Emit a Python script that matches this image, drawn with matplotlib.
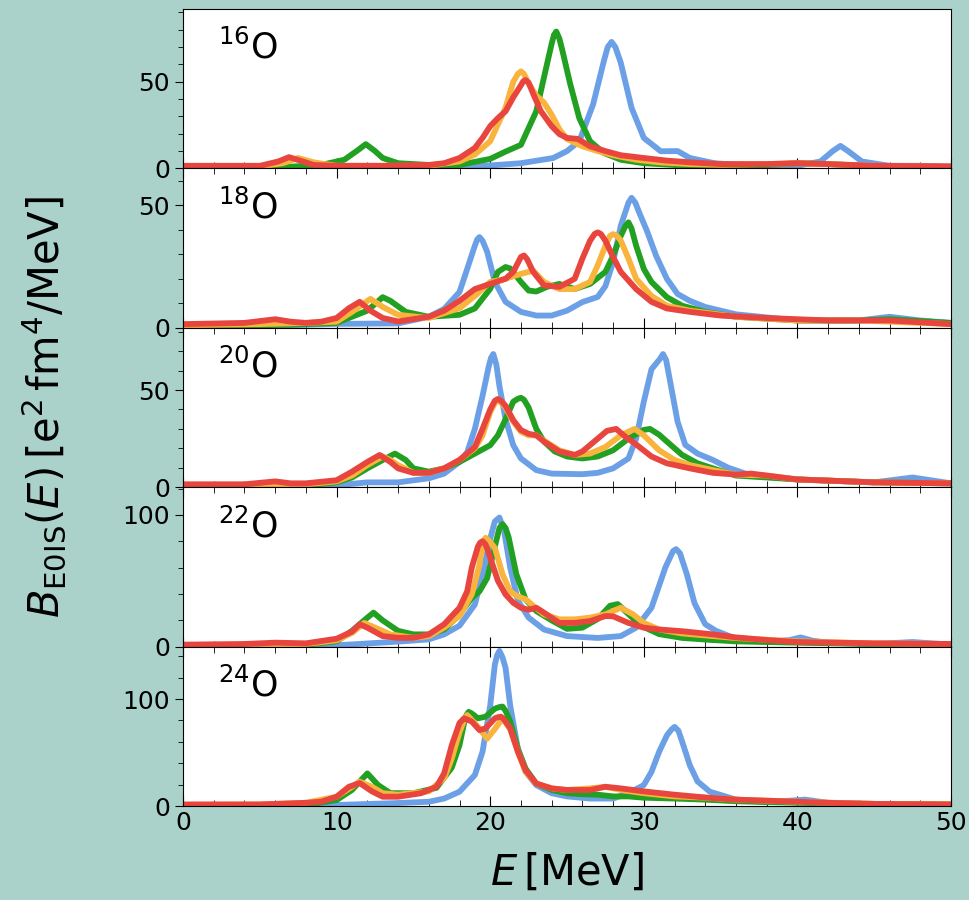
import matplotlib
matplotlib.use("Agg")
import matplotlib.pyplot as plt
from matplotlib.ticker import AutoMinorLocator, MultipleLocator

# ---- 16O ----
o16_blue_e = [0, 5, 10, 15, 18, 20, 22, 24.1, 25, 25.8, 26.7, 27.4, 27.65, 27.9, 28.15, 28.5, 29.2, 30.0, 31.1, 32.2, 33.0, 34.6, 37, 40, 41.5, 42.3, 42.8, 43.3, 44.2, 46, 48, 50]
o16_blue_b = [0.5, 0.5, 0.5, 0.8, 1.2, 1.7, 3, 6, 10, 15.7, 37, 62, 70, 73, 70, 61, 35, 17.6, 9.9, 10, 6, 3, 1.5, 1.5, 4, 10, 13, 10, 4, 1.5, 1.5, 1]
o16_green_e = [0, 6, 9, 10.5, 11.3, 11.9, 12.5, 13, 14, 16, 18, 20, 21, 22, 23, 23.5, 24, 24.15, 24.3, 24.5, 24.7, 25.2, 25.8, 26.5, 27.4, 28.5, 30, 32, 35, 38, 40, 42, 45, 50]
o16_green_b = [0.5, 0.5, 2, 5, 10, 14, 10, 6, 3, 2, 2, 5.5, 9.7, 13.6, 33, 52.5, 72, 77, 79, 75, 68, 49, 29, 15.7, 8.9, 5, 3, 2, 1.5, 2, 3, 2.5, 1.2, 0.8]
o16_orange_e = [0, 5, 6.5, 7.5, 8.5, 10, 13, 16, 18, 19, 20, 20.5, 21, 21.5, 21.8, 22, 22.2, 22.5, 23, 23.5, 24, 24.5, 25, 26, 27, 28, 29.5, 31, 33, 35, 38, 40, 42, 45, 50]
o16_orange_b = [1, 1, 3, 6, 3.5, 1.5, 1.5, 1.5, 4, 8, 15.7, 25.4, 35, 50, 54.5, 56, 54.5, 49, 42, 38, 31, 22.6, 17, 12.8, 10, 7.6, 5, 3.5, 2.5, 2, 2.5, 3, 2.5, 1.5, 1]
o16_red_e = [0, 5, 6.2, 6.9, 7.8, 8.5, 10, 13, 16, 17, 18, 19, 19.5, 20, 20.5, 21, 21.5, 22, 22.15, 22.3, 22.5, 22.8, 23.3, 24, 24.5, 25, 25.7, 26.5, 27.5, 28.5, 30, 31.5, 33, 35, 38, 40, 42, 45, 50]
o16_red_b = [1.5, 1.5, 4, 6.5, 4, 2, 1.5, 1.5, 2, 3, 6, 11.8, 17.6, 24.4, 29, 33, 41, 48, 50.3, 51, 49.5, 43, 33, 24.4, 19.8, 17.6, 17, 12.8, 10, 7.6, 6, 4.5, 3.5, 2.5, 2.5, 3, 2.5, 1.5, 1.2]

# ---- 18O ----
o18_blue_e = [0, 5, 10, 14, 16, 17, 18, 18.5, 19, 19.15, 19.3, 19.5, 19.8, 20.3, 21, 22, 23, 24, 25, 26, 27, 27.5, 28, 28.5, 29.0, 29.2, 29.45, 29.7, 30.2, 30.8, 31.5, 32.2, 33, 34, 36, 40, 44, 46, 48, 50]
o18_blue_b = [0.5, 0.8, 1.6, 1.8, 4.5, 7.7, 14.6, 24, 33.5, 36, 37, 35.5, 31, 18.7, 10.6, 6.5, 5, 5, 7, 10.5, 12.6, 17, 26.8, 41.6, 51, 53, 51, 47, 39.6, 29.4, 20, 13.8, 11, 8.5, 5.5, 3, 3, 4.5, 3, 2]
o18_green_e = [0, 5, 8, 10, 11, 12, 13, 13.5, 14.5, 16, 18, 19, 20, 20.5, 21, 21.3, 22, 22.5, 23, 23.7, 24.5, 25.5, 26.5, 27.5, 28, 28.5, 28.8, 29, 29.2, 29.5, 30, 30.5, 31.5, 32.5, 34, 36, 40, 44, 46, 50]
o18_green_b = [1, 1, 1.5, 2, 4.5, 7, 12.5, 11, 6.5, 4.5, 5.3, 7.9, 15.9, 22.8, 24.8, 24.2, 18.7, 15.2, 14.8, 16.7, 17.9, 15.8, 17.9, 22.8, 29.4, 37.5, 41.5, 43, 40.5, 33.5, 24, 18.7, 12.5, 9, 6.5, 4.5, 3, 3, 3.5, 2]
o18_orange_e = [0, 5, 8, 10, 11, 12.2, 13, 14, 16, 18, 19, 20, 21, 22, 22.8, 23.5, 24.5, 25.5, 26.5, 27, 27.5, 27.8, 28, 28.25, 28.5, 29, 29.5, 30.5, 31.5, 33, 34.5, 36, 40, 44, 50]
o18_orange_b = [1, 1.5, 2, 2.5, 6.5, 11.8, 8.5, 5.3, 4, 8, 13, 18.7, 20, 22, 23.3, 18.7, 15.8, 15.8, 18.7, 25.5, 33.5, 37.5, 38.2, 37.5, 35.6, 28.2, 20, 13, 9, 7, 5.8, 4.5, 3, 3, 1.5]
o18_red_e = [0, 4, 6, 7, 8, 9, 10, 10.8, 11.5, 12.2, 13, 14, 16, 17, 18, 19, 20, 21, 21.5, 22, 22.2, 22.4, 22.8, 23.5, 24.5, 25.5, 26, 26.5, 26.8, 27, 27.2, 27.5, 28, 28.5, 29.5, 30.5, 31.5, 33, 35, 38, 42, 46, 50]
o18_red_b = [1.5, 2, 3.5, 2.5, 2, 2.5, 4, 8, 10.6, 7, 4, 2.6, 4.5, 7, 11, 15.8, 17.9, 20, 22.8, 28.9, 29.5, 28, 22.8, 17.3, 16.7, 20, 28.2, 35.5, 38.3, 38.9, 38.3, 35.5, 28.9, 22.8, 15.8, 10.6, 7.9, 6.5, 5, 4, 3, 3, 1.5]

# ---- 20O ----
o20_blue_e = [0, 5, 10, 12, 14, 16, 17, 18, 18.5, 19, 19.5, 19.9, 20.05, 20.2, 20.4, 20.6, 21, 21.5, 22, 23, 24, 26, 27, 28, 29, 29.5, 30, 30.5, 31.05, 31.25, 31.45, 31.7, 32.2, 32.7, 33.5, 34.5, 35.5, 37, 40, 45, 47.5, 50]
o20_blue_b = [0.5, 0.5, 1, 2.5, 2.5, 4.6, 7, 13, 18, 30, 47, 62, 66.5, 68.5, 63, 52, 35, 21.6, 14.8, 8.8, 7, 6.7, 7.4, 9.7, 14.8, 25, 44, 60.7, 66, 68.5, 65.5, 55, 33.7, 21.8, 17.3, 14, 10, 6, 4, 2.5, 5, 2]
o20_green_e = [0, 5, 8, 10, 11, 12, 13, 13.8, 14.5, 15, 16, 17, 18, 19, 20, 20.5, 21, 21.5, 21.8, 22, 22.2, 22.5, 23, 23.5, 24.2, 25, 26, 27, 28, 29, 30, 30.4, 31, 31.5, 32.5, 33.5, 34.5, 36, 38, 40, 45, 50]
o20_green_b = [0.5, 0.8, 1, 2.5, 5, 9.7, 14, 17.3, 14, 9.7, 8, 9.7, 13, 17.3, 21.6, 26.7, 35, 44, 45.5, 46, 45, 41, 30, 23.5, 18.4, 15.8, 14.8, 15.8, 19, 25, 29.5, 30, 27, 23.5, 16.6, 12.3, 9.7, 6, 5, 4, 2.5, 2]
o20_orange_e = [0, 5, 8, 10, 11, 12, 13, 13.5, 14, 15, 16, 17, 18, 19, 19.5, 20, 20.35, 20.5, 20.7, 21, 21.5, 22, 22.5, 23, 23.5, 24.5, 25.5, 26.5, 27.5, 28.5, 29.4, 30, 31, 32, 33, 34.5, 36, 38, 40, 45, 50]
o20_orange_b = [1, 1, 1.5, 3, 6, 11.4, 15.8, 14, 11.4, 7.4, 7.4, 9.7, 14, 20, 26.7, 38.7, 44, 44.5, 43.5, 41, 33.7, 28.6, 26.7, 26.7, 24, 19, 16.6, 17.3, 20.7, 26.7, 30, 26.7, 19, 14, 11.4, 8.8, 6.5, 6, 4, 2.5, 2]
o20_red_e = [0, 4, 6, 7, 8, 10, 11, 12, 12.8, 13.5, 14, 15, 16, 17, 18, 19, 19.5, 20, 20.3, 20.5, 20.7, 21, 21.5, 22, 22.5, 23, 23.5, 24.5, 25.5, 26, 27, 27.6, 28.2, 28.8, 29.5, 30.5, 31.5, 33, 34.5, 36, 37, 38.5, 40, 45, 50]
o20_red_b = [1.5, 1.5, 3, 2, 2, 3.6, 8, 13, 16.6, 13, 9.7, 7.4, 7.4, 9.7, 14, 20.7, 30, 40, 44.5, 45.4, 44.5, 41.9, 34.5, 29.4, 27.5, 26.7, 23.5, 18.4, 16.6, 18.4, 25, 29, 30, 26, 22, 15.8, 12.3, 9.7, 7.4, 6.5, 7, 5.5, 4, 2.5, 2]

# ---- 22O ----
o22_blue_e = [0, 5, 10, 14, 16, 17, 18, 19, 19.5, 20, 20.3, 20.6, 20.9, 21.3, 21.8, 22.5, 23.5, 25, 27, 28.5, 29.5, 30.5, 31.4, 31.9, 32.1, 32.35, 32.8, 33.3, 34, 34.7, 36, 38, 39.5, 40.2, 41, 42, 45, 47.5, 50]
o22_blue_b = [0.5, 0.5, 1, 3.8, 5.5, 9.3, 15.9, 32, 55, 82, 95, 98, 88, 60, 35, 22, 13, 8, 6.6, 8, 14.4, 29.5, 60, 72.5, 74, 71, 55, 33, 17, 12, 6, 3.5, 5, 7, 4.5, 3, 2, 3.5, 1.5]
o22_green_e = [0, 5, 8, 10, 11, 12, 12.4, 13, 14, 15, 16, 17, 18, 18.8, 19.3, 19.8, 20.3, 20.6, 20.8, 21.0, 21.2, 21.7, 22.3, 23, 24, 25, 26, 27, 27.8, 28.3, 29, 29.8, 31, 32.5, 34.5, 36, 40, 45, 50]
o22_green_b = [0.5, 1, 1.5, 4, 12, 22, 25.8, 19.9, 12, 9.3, 9.3, 13, 24.5, 37, 42, 52, 76, 90, 93, 90, 83, 55, 35.9, 27, 19.9, 13.5, 14.4, 21, 31, 32.3, 24.7, 15.9, 9.5, 6.6, 5, 4, 3, 2, 1.5]
o22_orange_e = [0, 5, 8, 10, 11, 11.8, 12.5, 13.5, 15, 16, 17, 18, 18.8, 19.3, 19.5, 19.7, 19.95, 20.3, 20.8, 21.3, 21.8, 22.3, 22.8, 23.5, 24.5, 25.5, 26.5, 27.5, 28.5, 29.3, 30, 31, 32.5, 34.5, 36, 40, 45, 50]
o22_orange_b = [1, 1.5, 2, 4.8, 10.4, 18, 14.4, 9.3, 6.7, 8, 14.4, 23.2, 39.6, 62, 79, 82.6, 80, 75, 55, 42, 38, 36, 31, 24.5, 20.7, 20.7, 22, 24.5, 29.5, 24.5, 18, 13, 10, 8, 6.5, 4, 2.5, 2]
o22_red_e = [0, 4, 6, 8, 10, 11, 11.5, 12, 13, 14, 15, 16, 17, 18, 18.5, 18.8, 19.2, 19.35, 19.5, 19.7, 20, 20.5, 21, 21.5, 22, 22.5, 23, 23.5, 24.5, 25.5, 26.5, 27.5, 28, 29, 30, 31, 32.5, 34.5, 36, 38, 40, 45, 50]
o22_red_b = [1.5, 2, 3, 2.5, 6, 11.4, 17, 14.4, 8, 6.7, 6.7, 9.3, 17, 29.5, 42, 60, 76, 79, 80, 77.5, 67.5, 50, 39.6, 33.3, 29.5, 28, 29.5, 25.8, 18, 18, 19.4, 23.2, 23, 18, 14.4, 13, 11.7, 9.3, 7, 5, 3.5, 2.5, 2]

# ---- 24O ----
o24_blue_e = [0, 5, 10, 14, 16, 17, 18, 19, 19.5, 20, 20.3, 20.45, 20.6, 20.8, 21, 21.3, 21.8, 22.3, 23, 24, 25, 26.5, 28, 29, 30, 30.5, 31, 31.5, 31.8, 32, 32.25, 32.5, 33, 33.5, 34.3, 36, 38, 40.5, 42, 45, 50]
o24_blue_b = [0.5, 0.5, 1, 2.8, 4, 7, 13.4, 29, 50.8, 94, 132, 141, 145, 139, 129, 94, 53.5, 32, 19.6, 12, 9, 7, 7, 12, 19.6, 32, 50.8, 66, 71.5, 74, 70.5, 60, 38, 23, 13.4, 6, 3.5, 6, 3, 1.5, 1]
o24_green_e = [0, 5, 8, 10, 11, 11.7, 12, 12.7, 13.5, 15, 16.5, 17.5, 18, 18.3, 18.45, 18.6, 18.8, 19.2, 19.7, 20.3, 20.6, 20.8, 21.0, 21.3, 21.8, 22.3, 23, 24, 25, 26, 27, 28, 29, 30, 32, 34, 36, 40, 45, 50]
o24_green_b = [0.5, 0.8, 1, 5.6, 15, 25.9, 30.5, 19.6, 12, 12, 17, 36, 57, 77.6, 85, 88, 86.5, 82, 83.5, 91, 92.5, 93, 89, 79, 53.5, 35, 21, 15, 12, 11, 10.6, 9, 9, 7.8, 7, 6, 4.5, 3, 2, 1.5]
o24_orange_e = [0, 5, 8, 10, 11, 11.5, 12.3, 13, 14, 16, 17, 17.5, 18, 18.35, 18.5, 18.7, 19.2, 19.8, 20.3, 20.8, 21.3, 21.8, 22.3, 23, 24, 25, 26.5, 27.5, 28.5, 30, 32, 34, 36, 40, 45, 50]
o24_orange_b = [1, 1.5, 3, 8.7, 18, 22.8, 18, 12, 10.6, 13.7, 26, 44.5, 69, 82, 85, 82, 74, 63, 72, 82, 72, 50.8, 32, 21, 16.5, 15, 16.5, 18, 15, 12, 9, 7.8, 6, 4, 2, 1.5]
o24_red_e = [0, 5, 6, 8, 9, 10, 10.8, 11.5, 12.3, 13, 14, 15.5, 16.5, 17, 17.5, 18, 18.3, 18.8, 19.3, 19.7, 20.3, 20.5, 20.7, 20.9, 21.3, 21.8, 22.3, 23, 24, 25, 26.5, 27.5, 28.5, 30, 32, 34, 36, 38, 40, 42, 45, 50]
o24_red_b = [1.5, 1.5, 2, 3, 4, 8.7, 18, 21.5, 13.7, 8.7, 8.7, 12, 18, 30.5, 57, 77.6, 82, 79, 71, 72.6, 82, 83, 83.5, 81, 72.6, 50.8, 33.6, 21, 16.5, 15, 15, 18, 16.5, 13.7, 10.6, 8, 6, 5, 4, 3, 2, 1.5]

nuclei = ["16", "18", "20", "22", "24"]
curves = {
    "16": [(o16_blue_e, o16_blue_b), (o16_green_e, o16_green_b), (o16_orange_e, o16_orange_b), (o16_red_e, o16_red_b)],
    "18": [(o18_blue_e, o18_blue_b), (o18_green_e, o18_green_b), (o18_orange_e, o18_orange_b), (o18_red_e, o18_red_b)],
    "20": [(o20_blue_e, o20_blue_b), (o20_green_e, o20_green_b), (o20_orange_e, o20_orange_b), (o20_red_e, o20_red_b)],
    "22": [(o22_blue_e, o22_blue_b), (o22_green_e, o22_green_b), (o22_orange_e, o22_orange_b), (o22_red_e, o22_red_b)],
    "24": [(o24_blue_e, o24_blue_b), (o24_green_e, o24_green_b), (o24_orange_e, o24_orange_b), (o24_red_e, o24_red_b)],
}
ytops = [92, 65, 82, 121, 149]
ymajor = [50, 50, 50, 100, 100]
colors = ["#6ca0e6", "#22a022", "#f8b43c", "#e8453e"]

bg = "#aad2ca"
fig, axes = plt.subplots(5, 1, figsize=(9.7, 9.0), dpi=100, sharex=True)
fig.patch.set_facecolor(bg)
fig.subplots_adjust(left=0.1887, right=0.9804, top=0.99, bottom=0.1044, hspace=0)

for i, (ax, nuc) in enumerate(zip(axes, nuclei)):
    for (e, b), c in zip(curves[nuc], colors):
        ax.plot(e, b, color=c, lw=4.2, solid_joinstyle="round", solid_capstyle="round")
    ax.set_xlim(0, 50)
    ax.set_ylim(0, ytops[i])
    ax.yaxis.set_major_locator(MultipleLocator(ymajor[i]))
    ax.yaxis.set_minor_locator(AutoMinorLocator(5))
    ax.xaxis.set_major_locator(MultipleLocator(10))
    ax.xaxis.set_minor_locator(MultipleLocator(2))
    ax.tick_params(axis="y", which="both", direction="out", labelsize=18)
    ax.tick_params(axis="y", which="major", length=6)
    ax.tick_params(axis="y", which="minor", length=3.5)
    ax.tick_params(axis="x", which="both", direction="in", top=(i > 0), bottom=True, labelsize=18)
    ax.tick_params(axis="x", which="major", length=7)
    ax.tick_params(axis="x", which="minor", length=4)
    ax.text(0.045, 0.87, r"$^{%s}$O" % nuc, transform=ax.transAxes, fontsize=25, va="top", ha="left")

axes[-1].set_xlabel(r"$E\,[\mathrm{MeV}]$", fontsize=30, labelpad=12)
fig.text(0.045, 0.548, r"$B_{\rm E0IS}(E)\,[{\rm e}^2\,{\rm fm}^4/{\rm MeV}]$", rotation=90,
         fontsize=30, va="center", ha="center")

fig.savefig("out.png", dpi=100, facecolor=bg)
